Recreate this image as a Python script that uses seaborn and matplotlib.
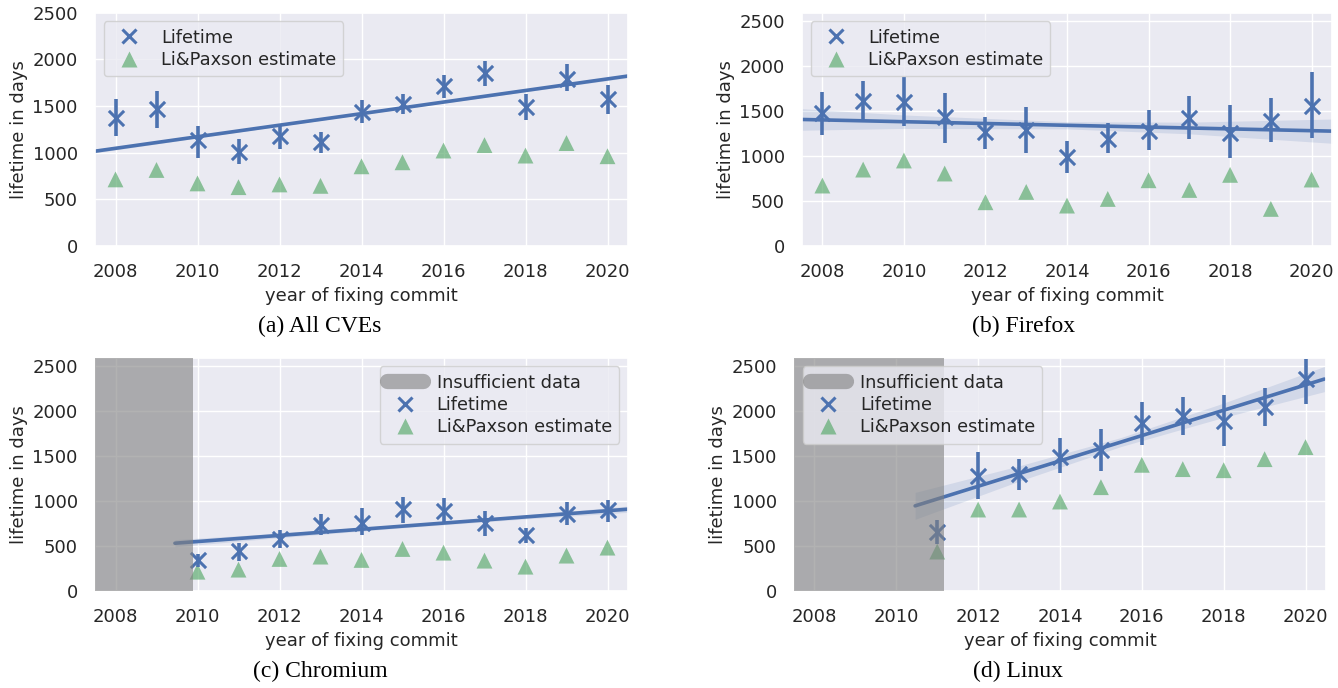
import matplotlib
matplotlib.use("Agg")
import matplotlib.pyplot as plt
from matplotlib.lines import Line2D
import seaborn as sns
import numpy as np
import pandas as pd

# values

# (a) All CVEs
years_a = [2008, 2009, 2010, 2011, 2012, 2013, 2014, 2015, 2016, 2017, 2018, 2019, 2020]
life_a = [1372, 1462, 1138, 1004, 1174, 1109, 1433, 1523, 1714, 1847, 1487, 1793, 1570]
life_lo_a = [1174, 1264, 947, 875, 1040, 994, 1318, 1408, 1580, 1714, 1354, 1660, 1415]
life_hi_a = [1570, 1660, 1282, 1148, 1292, 1217, 1559, 1631, 1832, 1976, 1624, 1948, 1724]
lp_a = [713, 814, 670, 630, 659, 644, 853, 896, 1022, 1080, 968, 1102, 961]
trend_x_a = [2007.5, 2011, 2014, 2017, 2020.5]
trend_y_a = [1015, 1232, 1417, 1603, 1820]
trend_hw_a = [18, 12, 10, 12, 18]

# (b) Firefox
years_b = [2008, 2009, 2010, 2011, 2012, 2013, 2014, 2015, 2016, 2017, 2018, 2019, 2020]
life_b = [1479, 1617, 1598, 1431, 1271, 1290, 996, 1189, 1282, 1424, 1256, 1394, 1561]
life_lo_b = [1234, 1394, 1331, 1145, 1085, 1041, 818, 1030, 1067, 1189, 978, 1160, 1208]
life_hi_b = [1717, 1840, 1877, 1702, 1431, 1543, 1171, 1368, 1517, 1673, 1569, 1643, 1940]
lp_b = [673, 851, 952, 807, 487, 602, 450, 524, 732, 624, 792, 413, 740]
trend_x_b = [2007.5, 2010, 2014, 2017, 2020.5]
trend_y_b = [1409, 1384, 1344, 1314, 1279]
trend_hw_b = [120, 75, 40, 65, 135]

# (c) Chromium
years_c = [2010, 2011, 2012, 2013, 2014, 2015, 2016, 2017, 2018, 2019, 2020]
life_c = [346, 446, 584, 736, 762, 918, 892, 762, 621, 862, 900]
life_lo_c = [268, 335, 483, 621, 621, 762, 762, 613, 539, 732, 769]
life_hi_c = [416, 539, 677, 855, 929, 1052, 1030, 892, 706, 992, 1015]
lp_c = [215, 238, 357, 383, 346, 468, 427, 338, 271, 394, 483]
trend_x_c = [2009.45, 2012, 2015, 2018, 2020.5]
trend_y_c = [532, 619, 722, 825, 911]
trend_hw_c = [40, 25, 18, 22, 35]
insufficient_c = 2009.9

# (d) Linux
years_d = [2011, 2012, 2013, 2014, 2015, 2016, 2017, 2018, 2019, 2020]
life_d = [658, 1282, 1308, 1494, 1569, 1866, 1951, 1888, 2052, 2360]
life_lo_d = [528, 1022, 1123, 1312, 1338, 1628, 1736, 1617, 1833, 2082]
life_hi_d = [792, 1543, 1468, 1702, 1803, 2108, 2156, 2182, 2256, 2583]
lp_d = [439, 907, 907, 996, 1156, 1405, 1357, 1345, 1468, 1602]
trend_x_d = [2010.46, 2013, 2015.5, 2018, 2020.46]
trend_y_d = [948, 1308, 1660, 2013, 2360]
trend_hw_d = [150, 85, 50, 80, 140]
insufficient_d = 2011.17

captions = ["(a) All CVEs", "(b) Firefox", "(c) Chromium", "(d) Linux"]

sns.set_theme(style="darkgrid")
plt.rcParams.update({
    "font.family": ["DejaVu Sans"],
    "axes.labelsize": 13,
    "xtick.labelsize": 13,
    "ytick.labelsize": 13,
    "legend.fontsize": 12.8,
})

blue = sns.color_palette("deep")[0]
green = sns.color_palette("deep")[2]

W, H = 1338, 688
fig = plt.figure(figsize=(W / 100, H / 100), dpi=100)


def add_ax(left, top, right, bottom):
    return fig.add_axes([left / W, 1 - bottom / H, (right - left) / W, (bottom - top) / H])


def panel(ax, years, life, lo, hi, lp, tx, ty, thw, ymax, cut=None, legend_loc="upper left"):
    life = np.array(life)
    yerr = [life - np.array(lo), np.array(hi) - life]
    ty = np.array(ty)
    thw = np.array(thw)

    ax.fill_between(tx, ty - thw, ty + thw, color=blue, alpha=0.15, lw=0, zorder=1.5)
    sns.lineplot(x=tx, y=ty, ax=ax, color=blue, lw=2.6, zorder=2)
    ax.errorbar(years, life, yerr=yerr, fmt="none", ecolor=blue, elinewidth=2.6, capsize=0, zorder=2.2)
    sns.scatterplot(x=years, y=life, ax=ax, marker="x", color=blue, s=120, linewidth=2.2, zorder=2.3)
    sns.scatterplot(x=years, y=lp, ax=ax, marker="^", color=green, s=130, alpha=0.65,
                    edgecolor="none", zorder=2.1)

    ax.set_xlim(2007.5, 2020.5)
    ax.set_ylim(0, ymax)
    ax.set_xticks(range(2008, 2021, 2))
    ax.set_yticks(range(0, 2501, 500))
    ax.tick_params(pad=6.5)
    ax.set_xlabel("year of fixing commit", labelpad=4)
    ax.set_ylabel("lifetime in days", labelpad=3)

    handles = [
        Line2D([], [], marker="x", ls="none", color=blue, markersize=10, mew=2.2),
        Line2D([], [], marker="^", ls="none", color=green, alpha=0.65, markersize=11, mec="none"),
    ]
    labels = ["Lifetime", "Li&Paxson estimate"]
    if cut is not None:
        ax.axvspan(2007.5, cut, color="gray", alpha=0.6, lw=0, zorder=3)
        handles.insert(0, Line2D([], [], color="gray", alpha=0.6, lw=11, solid_capstyle="round"))
        labels.insert(0, "Insufficient data")
    ax.legend(handles, labels, loc=legend_loc, labelspacing=0.25)


ax_a = add_ax(95, 12.5, 628, 246)
panel(ax_a, years_a, life_a, life_lo_a, life_hi_a, lp_a, trend_x_a, trend_y_a, trend_hw_a, 2500)

ax_b = add_ax(802, 12.5, 1332, 246)
panel(ax_b, years_b, life_b, life_lo_b, life_hi_b, lp_b, trend_x_b, trend_y_b, trend_hw_b, 2600)

ax_c = add_ax(95, 357.5, 628, 591)
panel(ax_c, years_c, life_c, life_lo_c, life_hi_c, lp_c, trend_x_c, trend_y_c, trend_hw_c, 2600,
      cut=insufficient_c, legend_loc="upper right")

ax_d = add_ax(794, 357.5, 1326, 591)
panel(ax_d, years_d, life_d, life_lo_d, life_hi_d, lp_d, trend_x_d, trend_y_d, trend_hw_d, 2600,
      cut=insufficient_d, legend_loc="upper left")

# sub-figure captions
cap_pos = [(320, 326), (1024, 326), (320, 671), (1018, 671)]
for text, (cx, cy) in zip(captions, cap_pos):
    fig.text(cx / W, 1 - cy / H, text, ha="center", va="center",
             family="Liberation Serif", fontsize=17, color="black")

fig.savefig("out.png", dpi=100)
